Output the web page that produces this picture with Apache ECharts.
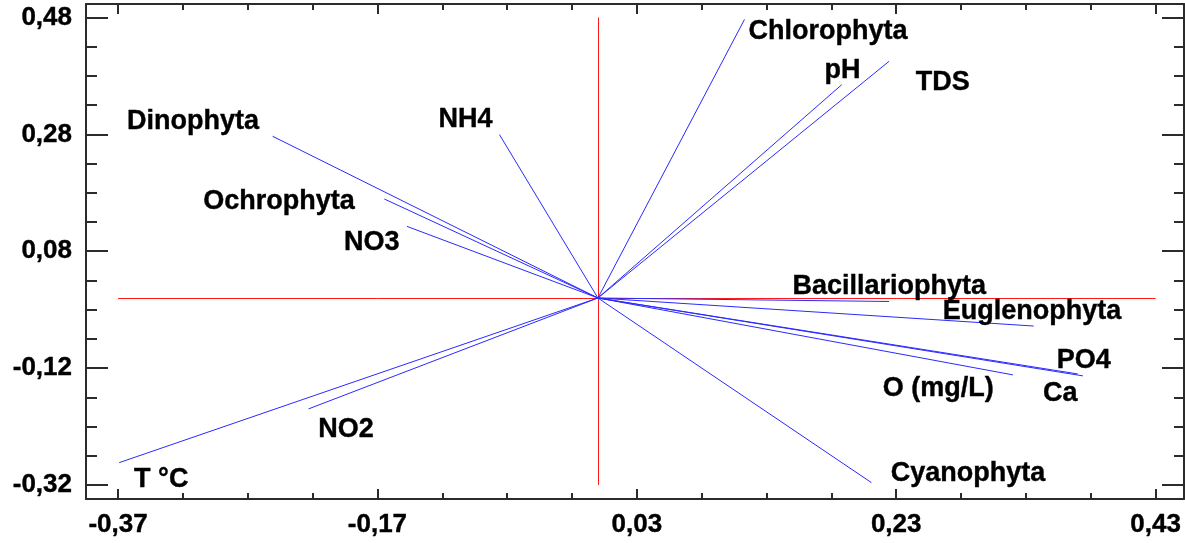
<!DOCTYPE html>
<html><head><meta charset="utf-8">
<script src="https://cdn.jsdelivr.net/npm/echarts@6/dist/echarts.min.js"></script>
<style>html,body{margin:0;padding:0;background:#fff}#c{width:1185px;height:543px}</style>
</head><body><div id="c"></div>
<script>
// ---- data ----
const names = ['Chlorophyta','pH','TDS','NH4','Dinophyta','Ochrophyta','NO3','T °C','NO2','Cyanophyta','O (mg/L)','Ca','PO4','Euglenophyta','Bacillariophyta'];
const xVals = [0.113, 0.188, 0.2245, -0.0759, -0.2508, -0.1647, -0.1472, -0.3691, -0.2231, 0.2109, 0.320, 0.374, 0.370, 0.336, 0.2245];
const yVals = [0.4766, 0.365, 0.405, 0.2796, 0.2767, 0.1694, 0.1225, -0.2818, -0.1898, -0.316, -0.1316, -0.1333, -0.130, -0.048, -0.006];
const xMajorTicks = [-0.37, -0.17, 0.03, 0.23, 0.43];
const yMajorTicks = [-0.32, -0.12, 0.08, 0.28, 0.48];

// ---- layout ----
const X_MIN = -0.3947, X_MAX = 0.4519, Y_MIN = -0.344, Y_MAX = 0.5031;
const labelX = [0.1161, 0.1748, 0.2451, -0.1230, -0.3630, -0.3043, -0.1957, -0.3576, -0.2157, 0.2258, 0.2196, 0.3431, 0.3538, 0.2659, 0.1500];
const labelY = [0.4595, 0.3926, 0.3721, 0.3087, 0.3053, 0.1682, 0.0980, -0.3080, -0.2224, -0.2977, -0.1521, -0.1607, -0.1042, -0.0202, 0.0226];

function minors(majors) {
  const out = [];
  for (let i = 0; i < majors.length - 1; i++) {
    for (let k = 1; k < 4; k++) out.push(Math.round((majors[i] + 0.05 * k) * 1000) / 1000);
  }
  return out;
}
const xMinorTicks = minors(xMajorTicks);
const yMinorTicks = minors(yMajorTicks);
const fmt = v => v.toFixed(2).replace('.', ',');
const FONT = 'Liberation Sans, Arial, sans-serif';
const AX = '#2b2b2b';

function mkAxis(pos, majors, ticks, len, showLine, showLabel, min, max) {
  return {
    type: 'value', position: pos, min: min, max: max,
    gridIndex: 0,
    axisLine: { show: showLine, onZero: false, lineStyle: { color: AX, width: 2 } },
    axisTick: { show: true, inside: true, length: len, customValues: ticks, lineStyle: { color: AX, width: 2 } },
    axisLabel: showLabel ? { show: true, customValues: majors, formatter: fmt, fontFamily: FONT, fontWeight: 'bold', fontSize: 26, color: '#000',
      textBorderColor: '#000', textBorderWidth: 0.4, margin: pos === 'bottom' ? 13 : 14 } : { show: false },
    splitLine: { show: false }
  };
}

const xAxes = [
  mkAxis('bottom', xMajorTicks, xMajorTicks, 10, true, true, X_MIN, X_MAX),
  mkAxis('bottom', xMajorTicks, xMinorTicks, 6, false, false, X_MIN, X_MAX),
  mkAxis('top', xMajorTicks, xMajorTicks, 10, true, false, X_MIN, X_MAX),
  mkAxis('top', xMajorTicks, xMinorTicks, 6, false, false, X_MIN, X_MAX)
];
const yAxes = [
  mkAxis('left', yMajorTicks, yMajorTicks, 22, true, true, Y_MIN, Y_MAX),
  mkAxis('left', yMajorTicks, yMinorTicks, 11, false, false, Y_MIN, Y_MAX),
  mkAxis('right', yMajorTicks, yMajorTicks, 22, true, false, Y_MIN, Y_MAX),
  mkAxis('right', yMajorTicks, yMinorTicks, 10, false, false, Y_MIN, Y_MAX)
];

const refLines = [
  { coords: [[xMajorTicks[0], 0], [xMajorTicks[xMajorTicks.length - 1], 0]] },
  { coords: [[0, yMajorTicks[0]], [0, yMajorTicks[yMajorTicks.length - 1]]] }
];
const vectors = names.map((n, i) => ({ name: n, coords: [[0, 0], [xVals[i], yVals[i]]] }));
const labels = names.map((n, i) => ({ name: n, value: [labelX[i], labelY[i]] }));

const chart = echarts.init(document.getElementById('c'), null, { renderer: 'canvas' });
chart.setOption({
  backgroundColor: '#fff',
  animation: false,
  grid: { left: 86, right: 1, top: 4, bottom: 44, containLabel: false },
  xAxis: xAxes,
  yAxis: yAxes,
  series: [
    { type: 'lines', coordinateSystem: 'cartesian2d', xAxisIndex: 0, yAxisIndex: 0, silent: true,
      lineStyle: { color: '#ff1a1a', width: 1, opacity: 1 }, data: refLines, z: 2 },
    { type: 'lines', coordinateSystem: 'cartesian2d', xAxisIndex: 0, yAxisIndex: 0, silent: true,
      lineStyle: { color: '#2a2aff', width: 1, opacity: 1 }, data: vectors, z: 3 },
    { type: 'scatter', xAxisIndex: 0, yAxisIndex: 0, symbolSize: 0, silent: true, data: labels, z: 4,
      itemStyle: { opacity: 1, color: '#000' },
      label: { show: true, position: 'right', distance: 0, offset: [0, 2], formatter: p => p.name, opacity: 1,
        fontFamily: FONT, fontWeight: 'bold', fontSize: 27, color: '#000', textBorderColor: '#000', textBorderWidth: 0.4 } }
  ]
});
</script>
</body></html>
